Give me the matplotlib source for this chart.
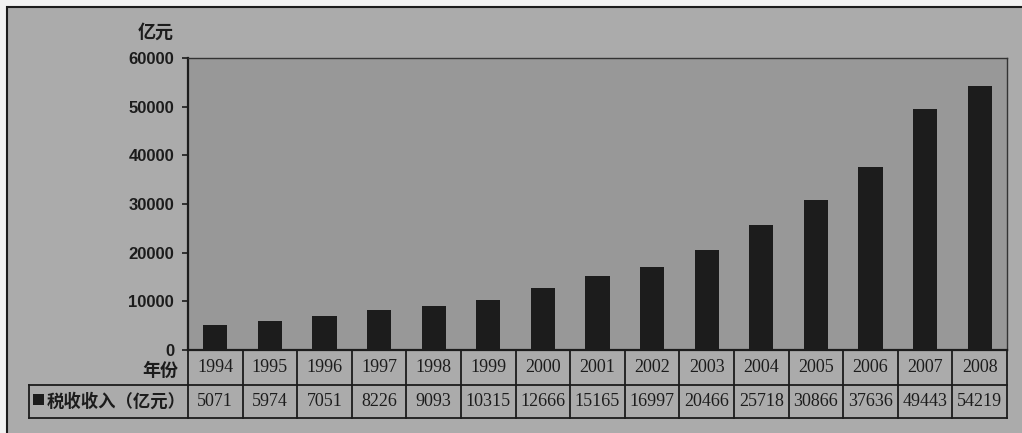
import matplotlib.pyplot as plt
from matplotlib.patches import Rectangle

years = ["1994", "1995", "1996", "1997", "1998", "1999", "2000", "2001",
         "2002", "2003", "2004", "2005", "2006", "2007", "2008"]
tax_revenue = [5071, 5974, 7051, 8226, 9093, 10315, 12666, 15165,
               16997, 20466, 25718, 30866, 37636, 49443, 54219]
y_ticks = [0, 10000, 20000, 30000, 40000, 50000, 60000]

series_label = "税收收入（亿元）"
unit_label = "亿元"
year_label = "年份"

cjk = ["Noto Sans CJK SC", "DejaVu Sans"]
outer_bg = "#ababab"
plot_bg = "#989898"
ink = "#1c1c1c"

fig = plt.figure(figsize=(10.22, 4.33), dpi=100)
fig.patch.set_facecolor("#f2f2f2")

# outer frame of the scanned chart
fig.patches.append(Rectangle((7 / 1022, -0.1), 1.2, 1.1 - 7 / 433,
                             transform=fig.transFigure, facecolor=outer_bg,
                             edgecolor=ink, linewidth=1.5, zorder=-5))

ax = fig.add_axes([188 / 1022, 83 / 433, 819 / 1022, 292 / 433])
ax.set_facecolor(plot_bg)

x = range(len(years))
ax.bar(x, tax_revenue, width=0.44, color=ink, zorder=2)

ax.set_xlim(-0.5, len(years) - 0.5)
ax.set_ylim(0, 60000)
ax.set_yticks(y_ticks)
ax.set_yticklabels([str(v) for v in y_ticks], family="Liberation Sans",
                   fontsize=12, fontweight="bold", color=ink)
ax.tick_params(axis="y", direction="out", length=4, width=1.2, color=ink, pad=6)
ax.set_xticks([])

for side in ["left", "bottom"]:
    ax.spines[side].set_linewidth(1.6)
    ax.spines[side].set_color(ink)
for side in ["top", "right"]:
    ax.spines[side].set_linewidth(1.0)
    ax.spines[side].set_color("#333333")

ax.text(-0.018, 1.09, unit_label, transform=ax.transAxes, family=cjk,
        fontsize=13, fontweight="bold", ha="right", va="center", color=ink)

# data table under the axis
tx = ax.get_xaxis_transform()
row1 = -0.12
row2 = -0.233
n = len(years)
for i in range(n + 1):
    ax.plot([i - 0.5, i - 0.5], [0, row2], transform=tx, color=ink,
            linewidth=1.3, clip_on=False)
ax.plot([-0.5, n - 0.5], [row1, row1], transform=tx, color=ink,
        linewidth=1.3, clip_on=False)
ax.plot([-0.194, 1], [row2, row2], transform=ax.transAxes, color=ink,
        linewidth=1.3, clip_on=False)
ax.plot([-0.194, 0], [row1, row1], transform=ax.transAxes, color=ink,
        linewidth=1.3, clip_on=False)
ax.plot([-0.194, -0.194], [row1, row2], transform=ax.transAxes, color=ink,
        linewidth=1.3, clip_on=False)

for i in x:
    ax.text(i, (0 + row1) / 2, years[i], transform=tx, ha="center",
            va="center", family="Liberation Serif", fontsize=13, color=ink)
    ax.text(i, (row1 + row2) / 2, str(tax_revenue[i]), transform=tx,
            ha="center", va="center", family="Liberation Serif",
            fontsize=13, color=ink)

ax.text(-0.012, -0.07, year_label, transform=ax.transAxes, family=cjk,
        fontsize=13, fontweight="bold", ha="right", va="center", color=ink)

ax.add_patch(Rectangle((-0.189, -0.19), 0.013, 0.04, transform=ax.transAxes,
                       facecolor=ink, edgecolor="none", clip_on=False))
ax.text(-0.173, (row1 + row2) / 2, series_label, transform=ax.transAxes,
        family=cjk, fontsize=12.5, fontweight="bold", ha="left", va="center",
        color=ink)

fig.savefig("out.png", dpi=100, facecolor=fig.get_facecolor())
